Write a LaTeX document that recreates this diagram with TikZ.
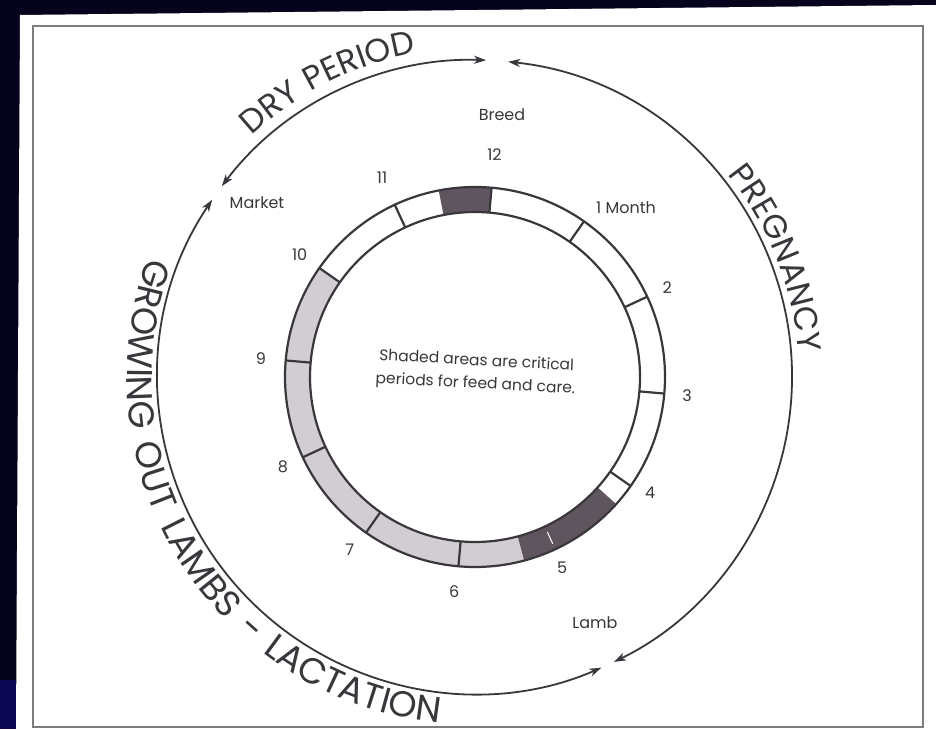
\documentclass[tikz,border=0pt]{standalone}
\usepackage{fontspec}
\setmainfont{Poppins}
\newfontfamily\capsA[LetterSpace=5]{Poppins}
\newfontfamily\capsB[LetterSpace=14]{Poppins}
\usetikzlibrary{arrows.meta,decorations.text}
\definecolor{navy}{RGB}{6,4,28}
\definecolor{navyblue}{RGB}{12,8,85}
\definecolor{ink}{RGB}{58,55,60}
\definecolor{darkseg}{RGB}{95,85,95}
\definecolor{lightseg}{RGB}{210,205,210}
\definecolor{framegray}{RGB}{125,125,125}
\newcommand\bigcapsA{\capsA\fontsize{33}{33}\selectfont}
\newcommand\bigcapsB{\capsB\fontsize{36}{36}\selectfont}
\begin{document}
\begin{tikzpicture}[x=1pt,y=1pt,
  lbl/.style={text=ink, font=\fontsize{16}{16}\selectfont, inner sep=0pt},
  ringline/.style={draw=ink, line width=2.2pt},
  tip/.tip={Stealth[length=12pt,width=8pt,inset=3.5pt]},
  cyclearc/.style={draw=ink, line width=1.8pt, tip-tip},
]
\useasboundingbox (0,0) rectangle (936,729);
\fill[navy] (0,0) rectangle (936,729);
\fill[navyblue] (0,0) rectangle (16,49);
\fill[white] (16,0) -- (20,714) -- (936,724) -- (936,0) -- cycle;
\draw[framegray, line width=1.5pt] (33,2) rectangle (923,703);

\begin{scope}[shift={(475,352)}]
  % shaded ring segments
  \fill[lightseg] (145:190) arc[start angle=145,end angle=285,radius=190]
     -- (285:165) arc[start angle=285,end angle=145,radius=165] -- cycle;
  \fill[darkseg] (285:190) arc[start angle=285,end angle=318,radius=190]
     -- (318:165) arc[start angle=318,end angle=285,radius=165] -- cycle;
  \fill[darkseg] (85:190) arc[start angle=85,end angle=101,radius=190]
     -- (101:165) arc[start angle=101,end angle=85,radius=165] -- cycle;
  \draw[white, line width=1pt] (295:171) -- (295:184);
  \foreach \a in {115,85,55,25,-5,-35,-95,-125,-155,-185,-215}
    \draw[ringline] (\a:165) -- (\a:190);
  \draw[ringline] (0,0) circle[radius=190];
  \draw[ringline] (0,0) circle[radius=165];

  % cycle arcs
  \draw[cyclearc] (143:317) arc[start angle=143,end angle=88,radius=317];
  \draw[cyclearc] (84:317) arc[start angle=84,end angle=-64,radius=317];
  \draw[cyclearc] (146:317) arc[start angle=146,end angle=293.5,radius=317];

  % curved captions
  \path[decorate, decoration={text along path, text align=center,
      text={|\color{ink}\bigcapsA|DRY PERIOD}}]
    (148:329) arc[start angle=148,end angle=85,radius=329];
  \path[decorate, decoration={text along path, text align=center,
      text={|\color{ink}\bigcapsA|PREGNANCY}}]
    (60:324) arc[start angle=60,end angle=-17,radius=324];
  \path[decorate, decoration={text along path, text align=center,
      text={|\color{ink}\bigcapsB|GROWING OUT LAMBS - LACTATION}}]
    (141:348) arc[start angle=141,end angle=283,radius=348];

  % month labels
  \node[lbl] (m12) at (85:223) {12};
  \node[lbl] (m11) at (115:220) {11};
  \node[lbl] (m10) at (145:214) {10};
  \node[lbl] (m9) at (175:215) {9};
  \node[lbl] (m8) at (205:212) {8};
  \node[lbl] (m7) at (234:213) {7};
  \node[lbl] (m6) at (264.5:216) {6};
  \node[lbl] (m5) at (294.5:210) {5};
  \node[lbl] (m4) at (-33.5:210) {4};
  \node[lbl] (m3) at (-5:213) {3};
  \node[lbl] (m2) at (25:212) {2};
  \node[lbl] (m1) at (151,169) {1 Month};
  \node[lbl] (breed) at (27,262) {Breed};
  \node[lbl] (market) at (-218,174) {Market};
  \node[lbl] (lamb) at (120,-246) {Lamb};
  \node[lbl, rotate=-3, align=center, font=\fontsize{15.5}{23}\selectfont] (note) at (1,4)
    {Shaded areas are critical\\periods for feed and care.};
\end{scope}
\end{tikzpicture}
\end{document}
